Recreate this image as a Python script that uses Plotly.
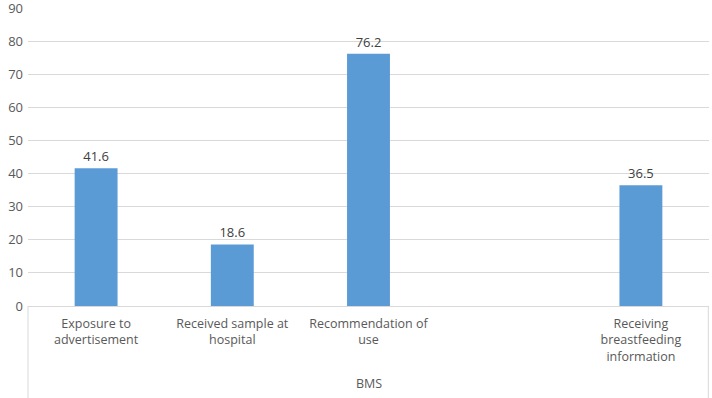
import plotly.graph_objects as go

categories = ["Exposure to<br>advertisement", "Received sample at<br>hospital",
              "Recommendation of<br>use", " ", "Receiving<br>breastfeeding<br>information"]
values = [41.6, 18.6, 76.2, None, 36.5]
group_label = "BMS"
y_ticks = list(range(0, 100, 10))

fig = go.Figure(go.Bar(
    x=categories, y=values,
    marker=dict(color="#5b9bd5", line=dict(width=0)),
    width=0.315,
    text=[("" if v is None else f"{v}") for v in values],
    textposition="outside", cliponaxis=False,
    textfont=dict(size=13, color="#404040", family="Open Sans"),
))

fig.update_layout(
    width=712, height=398,
    margin=dict(l=28, r=3, t=8, b=92, autoexpand=False),
    paper_bgcolor="white", plot_bgcolor="white",
    showlegend=False,
    font=dict(family="Open Sans", size=12, color="#595959"),
    xaxis=dict(type="category", categoryorder="array", categoryarray=categories,
               showgrid=False, showline=True, linecolor="#d9d9d9", linewidth=1,
               ticks="", ticklabelstandoff=6,
               tickfont=dict(size=12.5, color="#595959"), range=[-0.5, 4.5],
               automargin=False, fixedrange=True),
    yaxis=dict(range=[0, 90], tickvals=y_ticks, showgrid=True, gridcolor="#d9d9d9",
               gridwidth=1, zeroline=False, showline=False, ticks="",
               ticklabeloverflow="allow", ticklabelstandoff=4,
               tickfont=dict(size=13, color="#595959"), automargin=False,
               fixedrange=True),
    annotations=[dict(text=group_label, xref="paper", yref="paper", x=0.5, y=-0.26,
                      showarrow=False, yanchor="middle",
                      font=dict(size=12.5, color="#595959"))],
    shapes=[
        dict(type="line", xref="paper", yref="paper", x0=0, x1=0, y0=0, y1=-0.31,
             line=dict(color="#d9d9d9", width=1)),
        dict(type="line", xref="paper", yref="paper", x0=0.999, x1=0.999, y0=0, y1=-0.31,
             line=dict(color="#d9d9d9", width=1)),
    ],
)

fig.write_html("out.html", config={"displayModeBar": False, "staticPlot": True},
               post_script="document.body.style.margin='0';")
